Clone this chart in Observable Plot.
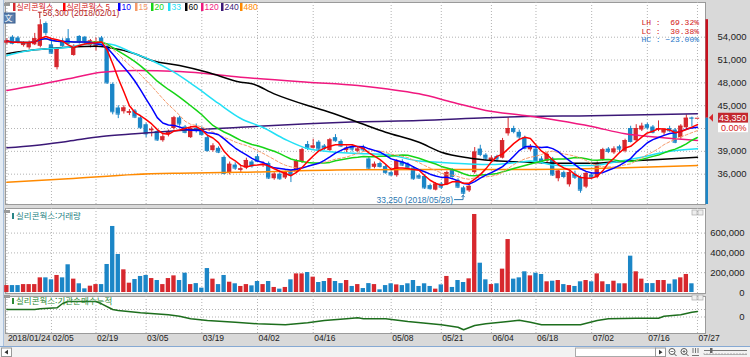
<!DOCTYPE html>
<html lang="ko">
<head>
<meta charset="utf-8">
<script src="https://cdn.jsdelivr.net/npm/d3@7"></script>
<script src="https://cdn.jsdelivr.net/npm/@observablehq/plot@0.6"></script>
<style>
html,body{margin:0;padding:0;background:#fff;}
#chart{position:relative;width:750px;height:357px;overflow:hidden;background:#d9d9d9;}
#chart svg{position:absolute;left:0;}
</style>
</head>
<body>
<div id="chart"></div>
<script>
// ---------------- DATA ----------------
const stockName = "실리콘웍스";
const year = "2018";
const days = ["01/24","01/25","01/26","01/29","01/30","01/31",
 "02/01","02/02","02/05","02/06","02/07","02/08","02/09","02/12","02/13","02/14","02/19","02/20","02/21","02/22","02/23","02/26","02/27","02/28",
 "03/02","03/05","03/06","03/07","03/08","03/09","03/12","03/13","03/14","03/15","03/16","03/19","03/20","03/21","03/22","03/23","03/26","03/27","03/28","03/29","03/30",
 "04/02","04/03","04/04","04/05","04/06","04/09","04/10","04/11","04/12","04/13","04/16","04/17","04/18","04/19","04/20","04/23","04/24","04/25","04/26","04/27","04/30",
 "05/02","05/03","05/04","05/08","05/09","05/10","05/11","05/14","05/15","05/16","05/17","05/18","05/21","05/23","05/24","05/25","05/28","05/29","05/30","05/31",
 "06/01","06/04","06/05","06/07","06/08","06/11","06/12","06/14","06/15","06/18","06/19","06/20","06/21","06/22","06/25","06/26","06/27","06/28","06/29",
 "07/02","07/03","07/04","07/05","07/06","07/09","07/10","07/11","07/12","07/13","07/16","07/17","07/18","07/19","07/20","07/23","07/24","07/25","07/26","07/27"];

const opens = [
 53200,54000,53900,52900,52600,53000,52800,55800,53000,50000,
 53500,53800,51600,54100,54000,52900,52800,53900,52800,47800,
 44700,44200,44000,44300,43400,42500,41700,41600,40400,41200,
 42000,43400,42200,40800,42000,42000,40800,39100,39400,38200,
 36100,37200,36500,36800,37600,38300,37100,37400,35400,36000,
 35500,36300,36300,37600,39900,39400,40200,39700,39100,40800,
 40300,39100,39600,39000,39500,38000,36900,37400,37000,36200,
 35800,37600,37300,36800,35800,35700,34500,33900,34700,34600,
 36500,35200,34200,33800,36200,39300,38500,37800,38300,38100,
 41300,42000,41500,40800,39200,39300,38000,37700,38000,35400,
 36200,34600,36000,35600,34300,35900,35600,37900,39300,38800,
 39600,39000,42000,40400,41800,42500,42200,41800,41400,42000,
 41800,40800,42100,43400,43350];
const highs = [
 53800,54200,54100,53400,53500,54500,56300,56000,53800,52600,
 53800,55000,53000,54200,54100,53700,53900,54100,53000,48000,
 45000,45000,44500,44500,43600,42700,42200,41800,41200,41800,
 43600,43600,42400,42300,42600,42200,41000,40000,39600,38400,
 37600,37500,37000,38100,37800,38600,37600,37600,36200,36200,
 36400,36500,37900,39400,40300,40600,40400,39900,40700,41200,
 40500,39700,39800,39500,39800,38200,37600,37600,37200,36400,
 37900,37900,37500,37000,36000,35900,34700,34900,34900,36400,
 36700,35400,34400,34600,39500,39800,38700,38400,38500,40700,
 43400,42300,41800,41000,39900,39500,38300,38900,38200,36600,
 36400,36400,36400,35800,36300,36200,37600,39400,39500,39600,
 39800,40600,42300,42500,42700,42700,42400,43000,42000,42300,
 42000,42500,43800,43500,43350];
const lows = [
 53000,53000,53100,52700,52400,52900,52600,54200,51800,49700,
 52700,53000,51500,53100,53000,52600,52200,53000,47800,43800,
 43300,43900,43700,43300,41900,40800,40900,40300,40200,40900,
 41800,42300,41300,40700,41400,41000,38900,38900,38700,35900,
 35900,36500,36200,36600,36800,37500,36900,35300,35200,35200,
 35300,34900,36100,37400,39100,39300,39100,39100,39000,40200,
 39500,38800,38900,38800,38900,36600,36700,36800,36000,35700,
 35600,37000,36600,35200,35300,34000,33900,33800,34000,34500,
 35500,34100,33250,33600,36000,38300,37800,37500,37600,38000,
 41000,41300,40500,39200,39000,37600,37300,37500,35700,35000,
 35400,34300,35300,33500,34100,35300,35400,37700,38700,38600,
 38800,38800,40100,40200,41600,41800,41300,41600,41100,41500,
 40000,40600,41900,42200,43350];
const closes = [
 53500,53200,53300,53200,53300,53800,55600,54600,51900,52400,
 52900,53200,52800,53300,53300,53500,53400,53400,48000,44200,
 43900,44700,44200,43500,42100,41300,41900,40500,40900,41600,
 43400,42600,41500,42000,41800,41200,39100,39700,38900,36100,
 37300,36800,36700,37800,37100,37700,37300,35500,36000,35400,
 36200,35900,37700,39200,39400,39700,39300,39400,40500,40400,
 39700,39400,39300,39300,39200,36800,37300,37000,36200,35900,
 37700,37200,36800,35400,35500,34200,34100,34700,34300,36200,
 35700,34300,33500,34400,38900,38600,38100,38100,38000,40400,
 42000,41600,40900,39400,39500,37800,37500,38600,35900,36400,
 35700,36200,35600,33900,36100,35600,37400,39200,39000,39300,
 39300,40400,40300,42000,42300,42100,41500,42000,41800,41700,
 40200,42300,43350,43350,43350];
const volumes = [
 70000,70000,70000,80000,80000,80000,148000,148000,128000,172000,
 148000,280000,135000,88000,37000,64000,80000,80000,283000,667000,
 384000,229000,94000,131000,162000,172000,141000,121000,80000,141000,
 168000,121000,195000,80000,90000,44000,242000,135000,80000,172000,
 104000,88000,61000,80000,67000,111000,80000,111000,51000,34000,
 51000,128000,188000,188000,202000,155000,101000,111000,141000,111000,
 90000,121000,61000,80000,40000,90000,80000,27000,70000,88000,
 77000,70000,88000,121000,61000,88000,61000,34000,77000,162000,
 51000,121000,101000,138000,788000,296000,128000,80000,88000,236000,
 535000,135000,148000,209000,168000,195000,182000,108000,114000,121000,
 80000,70000,61000,108000,121000,108000,188000,108000,80000,114000,
 88000,88000,367000,209000,135000,90000,90000,121000,121000,84000,
 128000,148000,182000,88000,0];

// moving-average periods and colours (legend)
const maPeriods = [5, 10, 15, 20, 33, 60, 120, 240, 480];
const maColors  = ["#ff0000","#0000ff","#f59a6a","#16d416","#22e0f5","#000000","#f0187f","#3b1877","#ff8a00"];

// longer averages (trading-day index -> price)
const ma33At  = [0,4,11,15,18,23,26,30,34,38,42,46,50,54,59,63,68,74,78,83,87,92,94,99,105,109,114,118,124];
const ma33    = [51600,52250,52690,53130,53130,51820,50940,49400,47430,45290,43320,42130,40560,39370,38890,38720,38590,37730,37540,37340,37270,37580,37730,37140,37140,37580,38230,38890,39340];
const ma60At  = [0,5,11,16,18,23,26,31,36,42,44,48,54,57,63,68,74,78,83,87,94,99,105,111,117,124];
const ma60    = [51820,52340,52690,52820,52690,51820,50940,50280,49400,48090,47880,46560,45030,44370,42830,41520,40200,38890,38130,37800,37580,37440,37440,37710,37930,38230];
const ma120At = [0,5,11,17,23,31,42,54,63,68,74,80,86,93,99,105,111,117,124];
const ma120   = [47000,47650,48530,49400,49620,49490,48740,48090,47650,47220,46560,45460,44370,43710,43050,42270,41310,40860,40430];
const ma240At = [0,5,11,17,23,31,42,54,63,74,86,93,105,117,124];
const ma240   = [39470,39770,40330,40950,41310,41740,42170,42620,42880,43050,43410,43580,43670,43840,43930];
const ma480At = [0,11,23,31,42,63,94,111,124];
const ma480   = [34950,35390,35960,36130,36260,36580,36620,36840,37140];

// institutional net-buying, cumulative (relative units)
const instAt  = [0,5,6,9,10,11,16,17,19,20,24,29,31,33,36,41,45,50,52,54,57,61,63,64,68,72,78,81,82,84,86,90,92,94,96,100,103,106,108,113,117,118,121,123,124];
const instCum = [75,75,82,92,135,155,155,132,75,65,42,22,8,-18,-35,-52,-68,-78,-68,-58,-35,-18,-8,-18,-18,-45,-78,-102,-128,-85,-68,-45,-32,-52,-78,-78,-78,-35,-18,-12,-12,8,22,48,55];

// axis ticks
const tickDays   = ["01/24","02/05","02/19","03/05","03/19","04/02","04/16","05/08","05/21","06/04","06/18","07/02","07/16","07/27"];
const tickLabels = ["2018/01/24","02/05","02/19","03/05","03/19","04/02","04/16","05/08","05/21","06/04","06/18","07/02","07/16","07/27"];
const priceGrid   = [36000,39000,42000,45000,48000,51000,54000];
const priceLabels = [36000,39000,45000,48000,51000,54000];   // 42,000 sits under the current-price box
const volTicks   = [0,200000,400000,600000];
const instTicks  = [0,75];
const instLabels = [0];

// ---------------- BUILD ----------------
const RED = "#d7282e", BLUE = "#1b86c7";
const FONT = "'Liberation Sans', Arial, sans-serif";
const KFONT = "'Noto Sans CJK KR', 'Noto Sans', sans-serif";
const MONO = "'Liberation Mono', 'DejaVu Sans Mono', monospace";
const fmt = d3.format(",");
const candles = days.map((d, i) => ({i, day: d, o: opens[i], h: highs[i], l: lows[i], c: closes[i], v: volumes[i]}));
const col = d => d.c < d.o ? BLUE : RED;
const tickIdx = tickDays.map(d => days.indexOf(d));
const sparse = (at, vals) => at.map((i, j) => ({i, v: vals[j]}));
const X = {type: "linear", domain: [-0.25, 125.44], axis: null};
const grid = {stroke: "#b3b3b3", strokeDasharray: "1,2", strokeWidth: 1};
const baseStyle = {background: "transparent", fontFamily: FONT, fontSize: "9.5px", overflow: "visible", color: "#222"};
const ML = 5, MR = 45;

const maLine = (k, w, extra = {}) => Plot.lineY(candles, Plot.windowY({k: maPeriods[k], anchor: "end", reduce: "mean"},
  {x: "i", y: "c", stroke: maColors[k], strokeWidth: w, ...extra}));
const spLine = (k, at, vals) => Plot.line(sparse(at, vals), {x: "i", y: "v", stroke: maColors[k], strokeWidth: 1.5, curve: "monotone-x"});

const price = Plot.plot({
  width: 750, height: 206, marginLeft: ML, marginRight: MR, marginTop: 2, marginBottom: 2,
  x: X, y: {domain: [32016, 58560], axis: null}, color: {type: "identity"}, style: baseStyle,
  marks: [
    Plot.frame({fill: "white", stroke: "#9a9a9a"}),
    Plot.ruleX(tickIdx, {x: d => d, ...grid}),
    Plot.ruleY(priceGrid, {y: d => d, ...grid}),
    Plot.ruleX(candles, {x: "i", y1: "l", y2: "h", stroke: col, strokeWidth: 1}),
    Plot.rect(candles, {x1: d => d.i - 0.39, x2: d => d.i + 0.39, y1: "o", y2: "c", fill: col}),
    Plot.ruleY(candles, {y: "c", x1: d => d.i - 0.39, x2: d => d.i + 0.39, stroke: col, strokeWidth: 1}),
    spLine(8, ma480At, ma480),
    spLine(7, ma240At, ma240),
    spLine(6, ma120At, ma120),
    spLine(5, ma60At, ma60),
    spLine(4, ma33At, ma33),
    maLine(3, 1.5),
    maLine(2, 1, {strokeDasharray: "3,2"}),
    maLine(1, 1.5),
    maLine(0, 1.5),
    Plot.text(priceLabels, {y: d => d, text: d => fmt(d), frameAnchor: "right", dx: 41, textAnchor: "end", fill: "#222", fontSize: 9.5})
  ]
});

const vol = Plot.plot({
  width: 750, height: 89, marginLeft: ML, marginRight: MR, marginTop: 2, marginBottom: 2,
  x: X, y: {domain: [-10100, 848500], axis: null}, color: {type: "identity"}, style: baseStyle,
  marks: [
    Plot.frame({fill: "white", stroke: "#9a9a9a"}),
    Plot.ruleX(tickIdx, {x: d => d, ...grid}),
    Plot.ruleY(volTicks.filter(v => v > 0), {y: d => d, ...grid}),
    Plot.rect(candles, {x1: d => d.i - 0.39, x2: d => d.i + 0.39, y1: 0, y2: "v", fill: col}),
    Plot.text(volTicks, {y: d => d, text: d => fmt(d), frameAnchor: "right", dx: 39, textAnchor: "end", fill: "#222", fontSize: 9.5})
  ]
});

const inst = Plot.plot({
  width: 750, height: 53, marginLeft: ML, marginRight: MR, marginTop: 2, marginBottom: 14,
  x: X, y: {domain: [-165, 205], axis: null}, style: baseStyle,
  marks: [
    Plot.frame({fill: "white", stroke: "#9a9a9a"}),
    Plot.ruleX(tickIdx, {x: d => d, ...grid}),
    Plot.ruleY(instTicks, {y: d => d, ...grid}),
    Plot.line(sparse(instAt, instCum), {x: "i", y: "v", stroke: "#1d6e1d", strokeWidth: 1.5}),
    Plot.text(instLabels, {y: d => d, text: d => fmt(d), frameAnchor: "right", dx: 39, textAnchor: "end", fill: "#222", fontSize: 9.5}),
    Plot.text(tickIdx, {x: d => d, text: (d, j) => tickLabels[j], frameAnchor: "bottom", dy: 7, dx: 1, textAnchor: "start", fill: "#222", fontSize: 8.5})
  ]
});

const chart = document.getElementById("chart");
function add(svg, top) { svg.style.top = top + "px"; chart.appendChild(svg); return svg; }
add(price, 0); add(vol, 206); add(inst, 294);

// helper for plain text (Plot's root svg defaults to text-anchor:middle)
function txt(sel, x, y, s, o = {}) {
  return sel.append("text").attr("x", x).attr("y", y).attr("dy", "0.35em")
    .attr("text-anchor", o.anchor || "start").attr("fill", o.fill || "#222")
    .style("font-family", o.font || FONT).style("font-size", (o.size || 9.5) + "px").text(s);
}

// ---------- price-panel annotations ----------
const pS = d3.select(price);
const px = v => price.scale("x").apply(v), py = v => price.scale("y").apply(v);

// legend (positions as in the reference header)
const legX = [13, 63, 118, 135, 151, 168, 185, 201, 221, 240];
const legItems = [[RED, stockName + " ,", KFONT, "#d42020"], [maColors[0], stockName + " " + maPeriods[0], KFONT, "#d42020"]]
  .concat(maPeriods.slice(1).map((p, k) => [maColors[k + 1], String(p), FONT, maColors[k + 1]]));
legItems.forEach(([c, s, f, tc], j) => {
  pS.append("rect").attr("x", legX[j]).attr("y", 3).attr("width", 2.5).attr("height", 8).attr("fill", c);
  txt(pS, legX[j] + 3.5, 7, s, {font: f, size: f === KFONT ? 8 : 8.5, fill: tc});
});

// top-left icons
pS.append("rect").attr("x", 4).attr("y", 3).attr("width", 6).attr("height", 3).attr("fill", "#9a9a9a");
pS.append("rect").attr("x", 2).attr("y", 13).attr("width", 13).attr("height", 10).attr("fill", "#5a7fae").attr("stroke", "#3a5f8e");
txt(pS, 8.5, 18, "文", {anchor: "middle", fill: "white", font: KFONT, size: 8});

// highest / lowest markers
const hiI = d3.maxIndex(highs), loI = d3.minIndex(lows);
const hx = px(hiI), hy = py(highs[hiI]);
pS.append("path").attr("d", `M${hx - 2},${hy - 7}H${hx + 2}M${hx},${hy - 7}V${hy - 1}`).attr("stroke", "#b51d1d").attr("fill", "none");
txt(pS, hx + 3, hy - 6, `${fmt(highs[hiI])} (${year}/${days[hiI]})`, {fill: "#b51d1d", size: 8.5});
const lxp = px(loI), lyp = py(lows[loI]);
txt(pS, lxp - 10, lyp + 5, `${fmt(lows[loI])} (${year}/${days[loI]})`, {anchor: "end", fill: "#2a78b2", size: 8.5});
pS.append("path").attr("d", `M${lxp - 9},${lyp + 5}H${lxp}V${lyp + 1}M${lxp - 1.5},${lyp + 2.5}L${lxp},${lyp + 0.5}L${lxp + 1.5},${lyp + 2.5}`)
  .attr("stroke", "#2a78b2").attr("fill", "none");

// LH / LC / HC stats
const maxH = highs[hiI], minL = lows[loI], last = closes[closes.length - 1], prev = closes[closes.length - 2];
const f2 = d3.format(" .2f");
const stats = [["LH", (maxH / minL - 1) * 100], ["LC", (last / minL - 1) * 100], ["HC", (last / maxH - 1) * 100]];
stats.forEach(([k, v], j) => {
  txt(pS, 699, 22.5 + j * 8.5, `${k} : ${f2(v)}%`, {anchor: "end", fill: v >= 0 ? "#d42020" : "#2a78c8", font: MONO, size: 8})
    .attr("xml:space", "preserve").style("white-space", "pre");
});

// current-price bar, marker and boxes
const yc = py(last), yTop = py(maxH), yBot = py(32016);
pS.append("rect").attr("x", 705.5).attr("y", yTop).attr("width", 2.5).attr("height", yc - yTop).attr("fill", "#c8101e");
pS.append("rect").attr("x", 705.5).attr("y", yc).attr("width", 2.5).attr("height", yBot - yc).attr("fill", "#1b86c7");
pS.append("path").attr("d", `M713,${yc - 4}L709,${yc}L713,${yc + 4}Z`).attr("fill", "#d7282e");
pS.append("rect").attr("x", 718).attr("y", yc - 5).attr("width", 30).attr("height", 10).attr("fill", "#c3282e");
txt(pS, 746.5, yc, fmt(last), {anchor: "end", fill: "white", size: 9});
pS.append("rect").attr("x", 718).attr("y", yc + 5).attr("width", 30).attr("height", 9.5).attr("fill", "white");
txt(pS, 746.5, yc + 10, d3.format(".2f")((last - prev) / prev * 100) + "%", {anchor: "end", fill: "#d42020", size: 9});

// ---------- sub-panel titles ----------
function panelTitle(svg, y, text, color) {
  const s = d3.select(svg);
  s.append("rect").attr("x", 4).attr("y", y - 4).attr("width", 6).attr("height", 3).attr("fill", "#9a9a9a");
  s.append("rect").attr("x", 12).attr("y", y - 1).attr("width", 2).attr("height", 6).attr("fill", color);
  txt(s, 16, y + 2, text, {fill: color, font: KFONT, size: 8.5});
  s.append("rect").attr("x", 692).attr("y", y - 4).attr("width", 5).attr("height", 5).attr("fill", "#eee").attr("stroke", "#aaa").attr("stroke-width", 0.7);
  s.append("rect").attr("x", 698).attr("y", y - 4).attr("width", 5).attr("height", 5).attr("fill", "#eee").attr("stroke", "#aaa").attr("stroke-width", 0.7);
}
panelTitle(vol, 8, stockName + ":거래량", "#2a8585");
panelTitle(inst, 5, stockName + ":기관순매수누적", "#2e8a35");

// ---------- chrome: left strip and bottom bar ----------
const chrome = d3.select(chart).append("svg").attr("width", 750).attr("height", 357).style("top", "0px").style("pointer-events", "none");
chrome.append("rect").attr("x", 0).attr("y", 0).attr("width", 3).attr("height", 347).attr("fill", "#e3ebf4");
chrome.append("line").attr("x1", 3.5).attr("x2", 3.5).attr("y1", 0).attr("y2", 347).attr("stroke", "#a9c0dc");
chrome.append("rect").attr("x", 0).attr("y", 347).attr("width", 750).attr("height", 10).attr("fill", "#f2f2f2");
chrome.append("line").attr("x1", 0).attr("x2", 750).attr("y1", 346.5).attr("y2", 346.5).attr("stroke", "#86a9d3");
chrome.append("rect").attr("x", 1.5).attr("y", 348).attr("width", 10).attr("height", 8.5).attr("fill", "white").attr("stroke", "#999");
chrome.append("path").attr("d", "M4.5,352.2L8,349.8V354.6Z").attr("fill", "#333");
chrome.append("rect").attr("x", 575.5).attr("y", 348).attr("width", 80).attr("height", 8.5).attr("fill", "white").attr("stroke", "#aaa");
chrome.append("rect").attr("x", 655.5).attr("y", 348).attr("width", 10).attr("height", 8.5).attr("fill", "white").attr("stroke", "#999");
chrome.append("path").attr("d", "M659,349.8L662.5,352.2L659,354.6Z").attr("fill", "#333");
[672, 684].forEach((cx, j) => {
  chrome.append("circle").attr("cx", cx).attr("cy", 351.5).attr("r", 3).attr("fill", "white").attr("stroke", "#555");
  chrome.append("path").attr("d", `M${cx + 2},${353.5}L${cx + 4.5},${356}`).attr("stroke", "#555");
  chrome.append("path").attr("d", j ? `M${cx - 1.5},351.5H${cx + 1.5}M${cx},350V353` : `M${cx - 1.5},351.5H${cx + 1.5}`).attr("stroke", "#555").attr("stroke-width", 0.8);
});
chrome.append("path").attr("d", "M693,348V353M695.5,348V353M698,348V353M692,355.5H699").attr("stroke", "#555").attr("stroke-width", 0.8);
chrome.append("line").attr("x1", 704).attr("x2", 747).attr("y1", 350.5).attr("y2", 350.5).attr("stroke", "#777");
chrome.append("path").attr("d", "M704,354.5H747" + d3.range(704, 748, 3).map(x => `M${x},353V354.5`).join("")).attr("stroke", "#888").attr("stroke-width", 0.6);
chrome.append("rect").attr("x", 710).attr("y", 348).attr("width", 2.5).attr("height", 5).attr("fill", "#666");
</script>
</body>
</html>
